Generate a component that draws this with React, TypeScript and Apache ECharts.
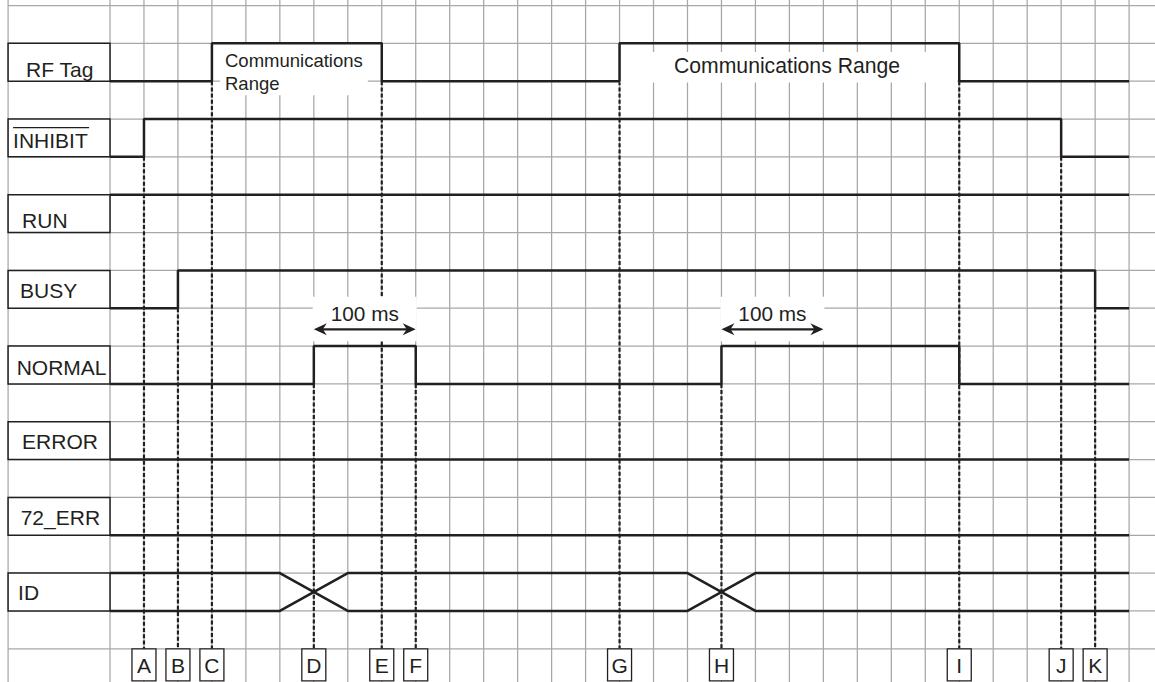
import React, { useEffect, useRef } from "react";
import * as echarts from "echarts";

// ---------- data ----------
const signalNames = ["RF Tag", "INHIBIT", "RUN", "BUSY", "NORMAL", "ERROR", "72_ERR", "ID"];
// [time (grid columns), level (1 = high, 0 = low)] – value held until the next point
const rfTag = [[0, 0], [3, 1], [8, 0], [15, 1], [25, 0], [30, 0]];
const inhibit = [[0, 0], [1, 1], [28, 0], [30, 0]];
const run = [[0, 1], [30, 1]];
const busy = [[0, 0], [2, 1], [29, 0], [30, 0]];
const normal = [[0, 0], [6, 1], [9, 0], [18, 1], [25, 0], [30, 0]];
const errorSig = [[0, 0], [30, 0]];
const err72 = [[0, 0], [30, 0]];
const stepSignals = [rfTag, inhibit, run, busy, normal, errorSig, err72];
// ID bus: two crossing edges
const idUpper = [[0, 1], [5, 1], [7, 0], [17, 0], [19, 1], [30, 1]];
const idLower = [[0, 0], [5, 0], [7, 1], [17, 1], [19, 0], [30, 0]];

const markerNames = ["A", "B", "C", "D", "E", "F", "G", "H", "I", "J", "K"];
const markerTimes = [1, 2, 3, 6, 8, 9, 15, 18, 25, 28, 29];
const markerFrom = [1, 3, 0, 4, 0, 4, 0, 4, 0, 1, 3]; // signal whose low level starts the dashed line

const rangeTexts = ["Communications\nRange", "Communications Range"];
const timingText = "100 ms";
const timingStart = [6, 18];
const timingEnd = [9, 21];

// ---------- layout ----------
const W = 1155, H = 682;
const COL_PX = 33.97, ROW_PX = 37.84, ORIGIN_X = 110, ORIGIN_Y = 5.5;
const X_MIN = -ORIGIN_X / COL_PX, X_MAX = (W - ORIGIN_X) / COL_PX;
const Y_MIN = -ORIGIN_Y / ROW_PX, Y_MAX = (H - ORIGIN_Y) / ROW_PX;
const LEFT_COLS = 3, N_COLS = 30, N_ROWS = 17, LABEL_ROW = 17;
const FONT = "'Liberation Sans', Arial, Helvetica, sans-serif";
const INK = "#231f20";
const GRID = "#a7a7aa";

const labelPadX = [18, 5, 14, 12, 8.6, 14, 12.6, 10];
const labelDy = [6.8, 2.6, 6.6, 1.2, 2.5, 1.1, 1.2, 0];

const levelY = (sig: number, level: number) => 1 + 2 * sig + (1 - level);

export default function App() {
  const ref = useRef<HTMLDivElement>(null);
  useEffect(() => {
    if (!ref.current) return;
    const chart = echarts.init(ref.current, null, { renderer: "svg" });

    const gridData: number[][] = [];
    gridData.push([0, -LEFT_COLS]);
    for (let c = 0; c <= N_COLS; c++) gridData.push([0, c]);
    for (let r = 0; r <= N_ROWS; r++) gridData.push([1, r]);

    const series: any[] = [];

    // grid lines
    series.push({
      type: "custom",
      coordinateSystem: "cartesian2d",
      silent: true,
      z: 1,
      data: gridData,
      renderItem: (params: any, api: any) => {
        const kind = gridData[params.dataIndex][0];
        const v = gridData[params.dataIndex][1];
        const p1 = kind === 0 ? api.coord([v, Y_MIN]) : api.coord([-LEFT_COLS, v]);
        const p2 = kind === 0 ? api.coord([v, Y_MAX]) : api.coord([X_MAX, v]);
        return {
          type: "line",
          shape: { x1: p1[0], y1: p1[1], x2: p2[0], y2: p2[1] },
          style: { stroke: GRID, lineWidth: 1.25 },
        };
      },
    });

    // dashed marker lines
    series.push({
      type: "custom",
      coordinateSystem: "cartesian2d",
      silent: true,
      z: 2,
      data: markerTimes.map((t, i) => [t, levelY(markerFrom[i], 0)]),
      renderItem: (params: any, api: any) => {
        const i = params.dataIndex;
        const p1 = api.coord([markerTimes[i], levelY(markerFrom[i], 0)]);
        const p2 = api.coord([markerTimes[i], LABEL_ROW]);
        return {
          type: "line",
          shape: { x1: p1[0], y1: p1[1], x2: p2[0], y2: p2[1] },
          style: { stroke: INK, lineWidth: 2.2, lineDash: [4, 2.2] },
        };
      },
    });

    // annotations (white backgrounds, texts, arrows)
    series.push({
      type: "custom",
      coordinateSystem: "cartesian2d",
      silent: true,
      z: 3,
      data: [[0, 0]],
      renderItem: (_params: any, api: any) => {
        const children: any[] = [];
        const whiteRect = (x1: number, y1: number, x2: number, y2: number) => {
          const a = api.coord([x1, y1]);
          const b = api.coord([x2, y2]);
          children.push({
            type: "rect",
            shape: { x: a[0], y: a[1], width: b[0] - a[0], height: b[1] - a[1] },
            style: { fill: "#ffffff" },
          });
        };
        // communications range 1
        whiteRect(3.24, 1.0, 7.59, 2.37);
        const t1 = api.coord([3.385, 1.757]);
        children.push({
          type: "text",
          x: t1[0], y: t1[1],
          style: { text: rangeTexts[0], fill: INK, fontSize: 18.5, fontFamily: FONT, lineHeight: 22.5, align: "left", verticalAlign: "middle" },
        });
        // communications range 2
        whiteRect(15, 1.229, 24.94, 2.035);
        const t2 = api.coord([19.93, 1.58]);
        children.push({
          type: "text",
          x: t2[0], y: t2[1],
          style: { text: rangeTexts[1], fill: INK, fontSize: 21.2, fontFamily: FONT, align: "center", verticalAlign: "middle" },
        });
        // 100 ms arrows
        for (let k = 0; k < timingStart.length; k++) {
          const s = timingStart[k], e = timingEnd[k];
          whiteRect(s - 0.03, 7.7, e + 0.03, 8.87);
          const tc = api.coord([s + 1.5, 8.145]);
          children.push({
            type: "text",
            x: tc[0], y: tc[1],
            style: { text: timingText, fill: INK, fontSize: 20.8, fontFamily: FONT, align: "center", verticalAlign: "middle" },
          });
          const a = api.coord([s, 8.557]);
          const b = api.coord([e, 8.557]);
          const y = a[1];
          children.push({
            type: "line",
            shape: { x1: a[0] + 8, y1: y, x2: b[0] - 8, y2: y },
            style: { stroke: INK, lineWidth: 2.2 },
          });
          children.push({
            type: "polygon",
            shape: { points: [[a[0], y], [a[0] + 13, y - 6], [a[0] + 9, y], [a[0] + 13, y + 6]] },
            style: { fill: INK },
          });
          children.push({
            type: "polygon",
            shape: { points: [[b[0], y], [b[0] - 13, y - 6], [b[0] - 9, y], [b[0] - 13, y + 6]] },
            style: { fill: INK },
          });
        }
        return { type: "group", children };
      },
    });

    // signal lines
    stepSignals.forEach((sig, i) => {
      series.push({
        type: "line",
        name: signalNames[i],
        step: "end",
        symbol: "none",
        silent: true,
        z: 5,
        data: sig.map(([t, l]) => [t, levelY(i, l)]),
        lineStyle: { color: INK, width: 2.5 },
      });
    });
    [idUpper, idLower].forEach((sig) => {
      series.push({
        type: "line",
        name: "ID",
        symbol: "none",
        silent: true,
        z: 5,
        data: sig.map(([t, l]) => [t, levelY(7, l)]),
        lineStyle: { color: INK, width: 2.5 },
      });
    });

    // left signal label boxes
    series.push({
      type: "custom",
      coordinateSystem: "cartesian2d",
      silent: true,
      z: 6,
      data: signalNames.map((_, i) => [-LEFT_COLS, levelY(i, 1)]),
      renderItem: (params: any, api: any) => {
        const i = params.dataIndex;
        const a = api.coord([-LEFT_COLS, levelY(i, 1)]);
        const b = api.coord([0, levelY(i, 0)]);
        const children: any[] = [
          {
            type: "rect",
            shape: { x: a[0], y: a[1], width: b[0] - a[0], height: b[1] - a[1] },
            style: { fill: "#ffffff", stroke: INK, lineWidth: 1.5 },
          },
          {
            type: "text",
            x: a[0] + labelPadX[i],
            y: (a[1] + b[1]) / 2 + labelDy[i],
            style: { text: signalNames[i], fill: INK, fontSize: 21, fontFamily: FONT, align: "left", verticalAlign: "middle" },
          },
        ];
        if (signalNames[i] === "INHIBIT") {
          children.push({
            type: "line",
            shape: { x1: a[0] + labelPadX[i], y1: a[1] + 8.7, x2: a[0] + labelPadX[i] + 76, y2: a[1] + 8.7 },
            style: { stroke: INK, lineWidth: 1.3 },
          });
        }
        return { type: "group", children };
      },
    });

    // bottom marker letter boxes
    series.push({
      type: "custom",
      coordinateSystem: "cartesian2d",
      silent: true,
      z: 6,
      data: markerTimes.map((t) => [t, LABEL_ROW]),
      renderItem: (params: any, api: any) => {
        const i = params.dataIndex;
        const c = api.coord([markerTimes[i], LABEL_ROW]);
        return {
          type: "group",
          children: [
            {
              type: "rect",
              shape: { x: c[0] - 12, y: c[1], width: 24, height: 32 },
              style: { fill: "#ffffff", stroke: INK, lineWidth: 1.3 },
            },
            {
              type: "text",
              x: c[0],
              y: c[1] + 16.3,
              style: { text: markerNames[i], fill: INK, fontSize: 21, fontFamily: FONT, align: "center", verticalAlign: "middle" },
            },
          ],
        };
      },
    });

    chart.setOption({
      animation: false,
      backgroundColor: "#ffffff",
      grid: { left: 0, right: 0, top: 0, bottom: 0, containLabel: false },
      xAxis: { type: "value", min: X_MIN, max: X_MAX, show: false },
      yAxis: { type: "value", min: Y_MIN, max: Y_MAX, inverse: true, show: false },
      tooltip: { show: false },
      series,
    });
    return () => chart.dispose();
  }, []);

  return (
    <div
      ref={ref}
      style={{ position: "absolute", left: 0, top: 0, width: W, height: H, background: "#fff" }}
    />
  );
}
